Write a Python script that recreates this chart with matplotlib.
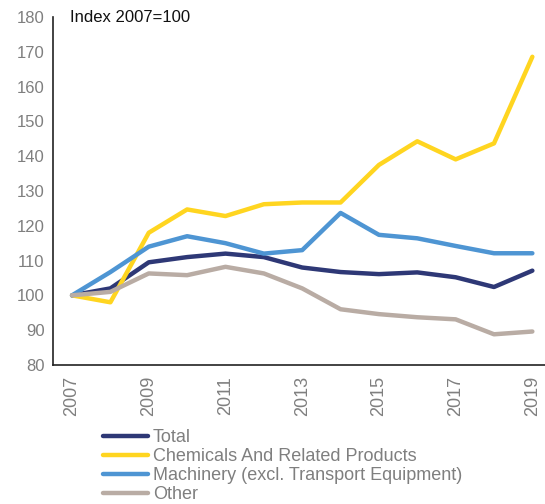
import matplotlib.pyplot as plt

plt.rcParams['font.family'] = ['Liberation Sans', 'DejaVu Sans']

years = list(range(2007, 2020))
total = [100, 102, 109.5, 111, 112, 111, 108, 106.7, 106.1, 106.6, 105.2, 102.4, 107.1]
chemicals = [100, 98, 118, 124.7, 122.8, 126.2, 126.7, 126.7, 137.5, 144.3, 139.1, 143.7, 168.6]
machinery = [100, 106.7, 114, 117, 115, 112, 113, 123.7, 117.4, 116.4, 114.2, 112.1, 112.1]
other = [100, 101, 106.3, 105.8, 108.2, 106.3, 102, 96, 94.6, 93.7, 93.1, 88.8, 89.6]

series = [
    ("Total", total, "#2E3876"),
    ("Chemicals And Related Products", chemicals, "#FFD520"),
    ("Machinery (excl. Transport Equipment)", machinery, "#4E95D3"),
    ("Other", other, "#B9ACA4"),
]

fig = plt.figure(figsize=(5.45, 5.04), dpi=100)
ax = fig.add_axes([0.097, 0.276, 0.915, 0.690])

for name, vals, col in series:
    ax.plot(years, vals, color=col, lw=3.2, label=name, solid_capstyle="round")

ax.set_ylim(80, 180)
ax.set_yticks(range(80, 181, 10))
ax.set_xlim(2006.5, 2019.5)
ax.set_xticks(years[::2])
ax.set_xticklabels([str(y) for y in years[::2]], rotation=90)
ax.tick_params(length=0, labelsize=12, labelcolor="#7f7f7f", pad=6)
ax.tick_params(axis="x", labelsize=13, pad=8)
for s in ["top", "right"]:
    ax.spines[s].set_visible(False)
for s in ["left", "bottom"]:
    ax.spines[s].set_color("#222222")
    ax.spines[s].set_linewidth(1.2)

ax.text(0.035, 1.0, "Index 2007=100", transform=ax.transAxes, fontsize=12,
        va="center", ha="left", color="#111111")

fig.legend(loc="upper left", bbox_to_anchor=(0.189, 0.148), frameon=False,
           fontsize=13, labelcolor="#7f7f7f", handlelength=2.5,
           handletextpad=0.25, labelspacing=0.1, borderpad=0, borderaxespad=0)

fig.savefig("out.png", dpi=100)
